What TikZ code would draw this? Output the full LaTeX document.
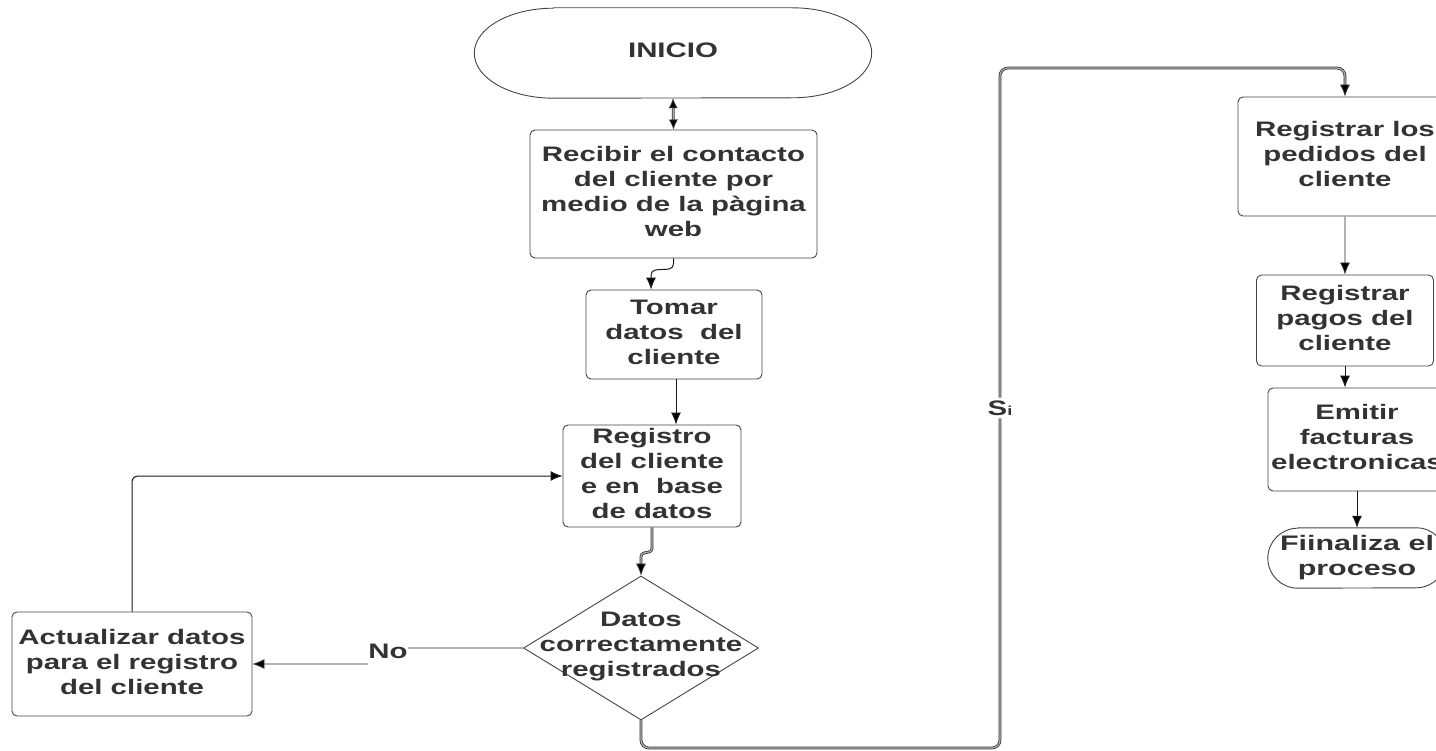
\documentclass[tikz,border=0pt]{standalone}
\usepackage{fontspec}
\setmainfont{Liberation Sans}
\usepackage{graphicx}
\usetikzlibrary{shapes.geometric,arrows.meta,calc}
\definecolor{txt}{HTML}{333333}
\definecolor{edge}{HTML}{444444}
\newcommand{\tx}[1]{\scalebox{1.4}[1]{\begin{tabular}{@{}c@{}}#1\end{tabular}}}
\begin{document}
\begin{tikzpicture}[x=1pt,y=-1pt,
  lbl/.style={font=\fontsize{21}{25}\selectfont\bfseries, text=txt, inner sep=0pt},
  box/.style={lbl, rectangle, draw=edge, line width=0.9pt, rounded corners=5pt},
  term/.style={lbl, rectangle, draw=none},
  outline/.style={draw=edge, line width=0.9pt},
  dia/.style={diamond, draw=edge, line width=0.9pt, inner sep=0pt},
  tip/.style={-{Latex[length=12pt,width=10pt,fill=black]}},
  conn/.style={draw=black!90, line width=1pt, tip},
  dbl/.style={draw=black!80, line width=0.8pt, double=gray!60, double distance=1.2pt},
  silbl/.style={fill=white, inner sep=3pt, font=\fontsize{21}{25}\selectfont\bfseries, text=txt}
]
\useasboundingbox (0,0) rectangle (1436,751);
\clip (0,0) rectangle (1436,751);

% nodes
\node[term, minimum width=397pt, minimum height=90pt] (inicio) at (673,53) {\tx{INICIO}};
\draw[outline] ([xshift=79pt]inicio.north west) -- ([xshift=-79pt]inicio.north east)
  arc[start angle=90, end angle=-90, x radius=79pt, y radius=45pt]
  -- ([xshift=79pt]inicio.south west)
  arc[start angle=270, end angle=90, x radius=79pt, y radius=45pt] -- cycle;

\node[box, minimum width=287pt, minimum height=128pt] (recibir) at (673.5,194)
  {\tx{Recibir el contacto\\del cliente por\\medio de la pàgina\\web}};
\node[box, minimum width=176pt, minimum height=89pt] (tomar) at (674,334.5)
  {\tx{Tomar\\datos~ del\\cliente}};
\node[box, minimum width=178pt, minimum height=102pt] (registro) at (652,476)
  {\tx{Registro\\del cliente\\e en~ base\\de datos}};
\node[dia, minimum width=235pt, minimum height=144pt] (d) at (641,648) {};
\node[lbl] (dtxt) at (641,646) {\tx{Datos\\correctamente\\registrados}};
\node[box, minimum width=240pt, minimum height=104pt] (act) at (132,664)
  {\tx{Actualizar datos\\para el registro\\del cliente}};

\node[box, minimum width=214pt, minimum height=119pt] (reg1) at (1345,156.5)
  {\tx{Registrar los\\pedidos del\\cliente}};
\node[box, minimum width=177pt, minimum height=91pt] (reg2) at (1345,320.5)
  {\tx{Registrar\\pagos del\\cliente}};
\node[box, minimum width=178pt, minimum height=103pt] (emitir) at (1357,439.5)
  {\tx{Emitir\\facturas\\electronicas}};
\node[term, minimum width=178pt, minimum height=60pt] (fin) at (1357,558)
  {\scalebox{1.45}[1]{\begin{tabular}{@{}c@{}}Fiinaliza el\\proceso\end{tabular}}};
\draw[outline] ([xshift=30pt]fin.north west) -- ([xshift=-30pt]fin.north east)
  arc[start angle=90, end angle=-90, x radius=30pt, y radius=30pt]
  -- ([xshift=30pt]fin.south west)
  arc[start angle=270, end angle=90, x radius=30pt, y radius=30pt] -- cycle;

% connectors
\draw[dbl, {Latex[length=10pt,width=9pt,fill=black]}-{Latex[length=10pt,width=9pt,fill=black]}] (inicio.south) -- (recibir.north);

\coordinate (t1) at ([xshift=-23pt]tomar.north);
\draw[conn] (recibir.south) -- ++(0,5) .. controls +(0,12) and +(0,-12) .. ($(t1)+(0,-14)$) -- (t1);

\draw[conn] ([xshift=2pt]tomar.south) -- ([xshift=2pt]tomar.south |- registro.north);

\draw[dbl, tip, rounded corners=3pt] (registro.south) -- ($(registro.south)+(0,24)$)
  -- ($(d.north)+(0,-22)$) -- (d.north);

\node[lbl] (no) at (388,653) {\tx{No}};
\draw[dbl] (d.west) -- (d.west -| no.east);
\draw[dbl, tip] (no.west |- act.east) -- (act.east);

\draw[conn, rounded corners=6pt] (act.north) |- (registro.west);

\coordinate (sib) at (1000,748);
\coordinate (sit) at (1000,68);
\draw[dbl, tip, rounded corners=8pt] (d.south) |- (sib)
  -- node[silbl] (si) {\scalebox{1.4}[1]{S\fontsize{13}{13}\selectfont i}} (sit)
  -| (reg1.north);

\draw[dbl, tip] (reg1.south) -- (reg2.north);
\draw[conn] (reg2.south) -- (reg2.south |- emitir.north);
\draw[conn] (emitir.south) -- (fin.north);
\end{tikzpicture}
\end{document}
